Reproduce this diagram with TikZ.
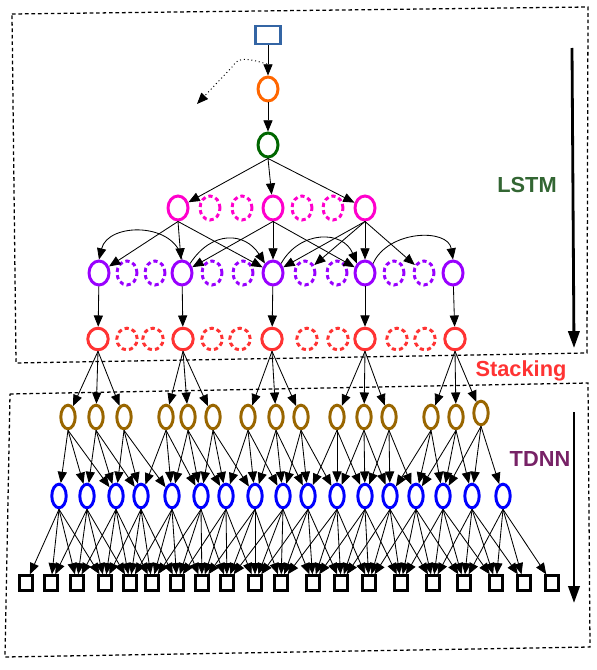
\documentclass[tikz,border=0pt]{standalone}
\usepackage{fontspec}
\setmainfont{Liberation Sans}
\usetikzlibrary{arrows.meta,shapes.geometric}

\definecolor{inblue}{RGB}{52,101,164}
\definecolor{embor}{RGB}{255,102,0}
\definecolor{projgr}{RGB}{0,102,0}
\definecolor{lmag}{RGB}{255,0,204}
\definecolor{lpur}{RGB}{153,0,255}
\definecolor{lred}{RGB}{255,51,51}
\definecolor{tbrown}{RGB}{153,102,0}
\definecolor{tblue}{RGB}{0,0,255}
\definecolor{lstmtxt}{RGB}{51,102,51}
\definecolor{tdnntxt}{RGB}{119,34,102}

\begin{document}
\begin{tikzpicture}[x=0.025cm,y=-0.025cm,
  cell/.style={ellipse,draw,line width=2.1pt,inner sep=0pt,minimum width=0.5cm,minimum height=0.6cm},
  redcell/.style={cell,draw=lred,minimum width=0.51cm,minimum height=0.54cm},
  thin cell/.style={cell,minimum width=0.36cm,minimum height=0.59cm},
  ghost/.style={dash pattern=on 3pt off 2.2pt},
  inbox/.style={draw=inblue,line width=2.1pt,inner sep=0pt,minimum width=0.63cm,minimum height=0.45cm},
  outbox/.style={draw,line width=2.1pt,inner sep=0pt,minimum width=0.31cm,minimum height=0.36cm},
  arrow/.style={-{Triangle[length=8pt,width=6.5pt]},line width=0.6pt},
  bigarrow/.style={-{Triangle[length=12pt,width=8pt]},line width=2pt},
  frame/.style={dash pattern=on 2.6pt off 2pt,line width=0.9pt},
  lbl/.style={font=\bfseries\fontsize{15.5}{18}\selectfont}]
\useasboundingbox (0,0) rectangle (597,670);

% dashed frames
\draw[frame] (12,14) -- (588,7) -- (587,353) -- (16,363) -- cycle;
\draw[frame] (10,394) -- (588,383) -- (590,647) -- (5,657) -- cycle;

% input, embedding, projection
\node[inbox] (in) at (268,35) {};
\node[cell,draw=embor] (emb) at (268,89) {};
\node[cell,draw=projgr] (proj) at (268,145) {};

% LSTM layers
\foreach \n/\x in {m1/178,m2/273,m3/365} \node[cell,draw=lmag] (\n) at (\x,208) {};
\foreach \x [count=\k] in {210,242,302,333} \node[cell,ghost,draw=lmag] (mg\k) at (\x,208) {};
\foreach \n/\x in {p1/99,p2/182,p3/273,p4/365,p5/453} \node[cell,draw=lpur] (\n) at (\x,273) {};
\foreach \x [count=\k] in {127,155,212,243,305,337,394,424} \node[cell,ghost,draw=lpur] (pg\k) at (\x,273) {};
\foreach \n/\x in {r1/98,r2/183,r3/272,r4/365,r5/455} \node[redcell] (\n) at (\x,339) {};
\foreach \x [count=\k] in {127,153,212,240,307,338,397,425} \node[redcell,ghost] (rg\k) at (\x,339) {};

% TDNN layers
\foreach \x/\y [count=\k from 0] in {68/417,96/417,124/417,166/417,188/417,213/417,248/417,276/417,301/417,337/417,364/417,389/417,431/417,456/417,481/413}
  \node[thin cell,draw=tbrown] (b\k) at (\x,\y) {};
\foreach \x [count=\k from 0] in {59,87,116,141,172,201,226,255,283,308,337,365,390,416,443,472,503}
  \node[thin cell,draw=tblue] (u\k) at (\x,496) {};
\foreach \x [count=\k from 0] in {26,51,77,105,130,152,177,202,227,255,281,313,341,369,401,433,464,496,524,552}
  \node[outbox] (s\k) at (\x,583) {};

% top chain
\draw[arrow] (in) -- (emb);
\draw[arrow] (emb) -- (proj);
\coordinate (fbA) at (267,64);
\coordinate (fbB) at (197,104);
\draw[dotted,line width=0.7pt,-{Triangle[length=8pt,width=6.5pt]}] (fbA) .. controls (250,59) and (238,56) .. (233,66) -- (fbB);
\draw[arrow] (proj.south) -- (m1); \draw[arrow] (proj.south) -- (m2); \draw[arrow] (proj.south) -- (m3);

% LSTM connections
\draw[arrow] (m1.south) -- (p1); \draw[arrow] (m1.south) -- (p2); \draw[arrow] (m1.south) -- (p3);
\draw[arrow] (m2.south) -- (p2); \draw[arrow] (m2.south) -- (p3); \draw[arrow] (m2.south) -- (p4);
\draw[arrow] (m3.south) -- (p3); \draw[arrow] (m3.south) -- (pg5); \draw[arrow] (m3.south) -- (p4); \draw[arrow] (m3.south) -- (pg8);
\draw[arrow] (p2.north) .. controls (176,222) and (108,222) .. (p1.north);
\draw[arrow] (p2.north east) .. controls (212,230) and (245,232) .. (p3.north west);
\draw[arrow] (p3.north east) .. controls (300,230) and (343,230) .. (p4.north west);
\draw[arrow] (p4.north east) .. controls (388,230) and (448,228) .. (p5.north);
\foreach \k in {1,...,5} \draw[arrow] (p\k) -- (r\k);

% stacking
\foreach \i in {0,...,14} {
  \pgfmathtruncatemacro\r{int(\i/3)+1}
  \draw[arrow] (r\r.south) -- (b\i);
}
\foreach \i in {0,...,14} \foreach \d in {0,1,2} {
  \pgfmathtruncatemacro\j{\i+\d}
  \draw[arrow] (b\i.south) -- (u\j);
}
\foreach \i in {0,...,16} \foreach \d in {0,...,3} {
  \pgfmathtruncatemacro\j{\i+\d}
  \draw[arrow] (u\i.south) -- (s\j);
}

% labels and direction arrows
\node[lbl,text=lstmtxt] (lstm) at (527,185) {LSTM};
\node[lbl,text=lred] (stack) at (521,371) {Stacking};
\node[lbl,text=tdnntxt] (tdnn) at (540,459) {TDNN};
\coordinate (la) at (572,48); \coordinate (lb) at (574,348);
\coordinate (ta) at (574,412); \coordinate (tb) at (574,603);
\draw[bigarrow] (la) -- (lb);
\draw[bigarrow] (ta) -- (tb);
\end{tikzpicture}
\end{document}
